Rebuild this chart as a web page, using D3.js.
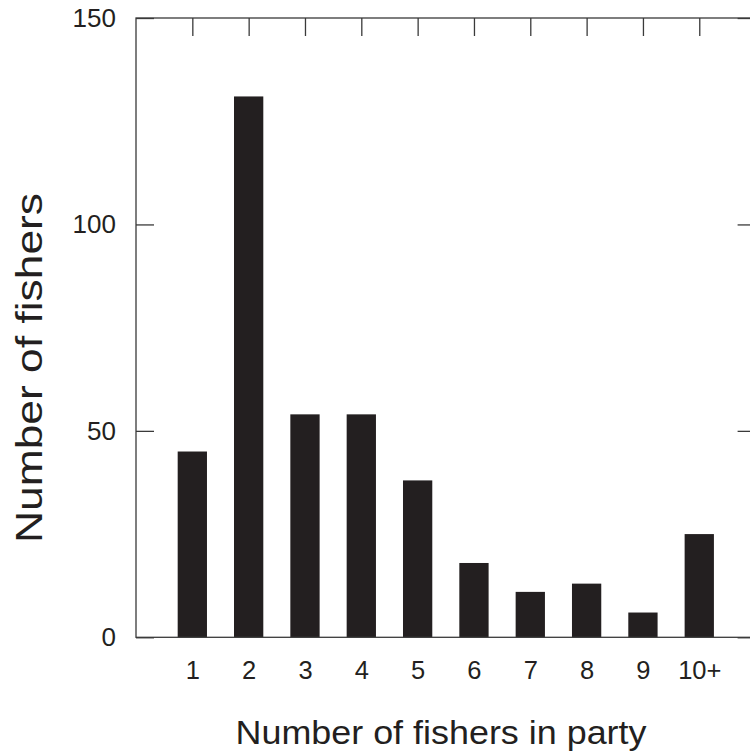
<!DOCTYPE html>
<html>
<head>
<meta charset="utf-8">
<script src="https://cdn.jsdelivr.net/npm/d3@7"></script>
<style>
  html, body { margin: 0; padding: 0; background: #ffffff; }
  svg { display: block; }
  text { font-family: "Liberation Sans", Arial, sans-serif; fill: #231f20; }
</style>
</head>
<body>
<svg id="chart" width="750" height="755"></svg>
<script>
// Party size categories and the number of fishers in each
const partySizes = ["1", "2", "3", "4", "5", "6", "7", "8", "9", "10+"];
const fisherCounts = [45, 131, 54, 54, 38, 18, 11, 13, 6, 25];
const yTicks = [0, 50, 100, 150];

const margin = { left: 136, top: 18 };
const width = 619.6, height = 619.3;
const tickLen = 18;
const ink = "#231f20";
const lineCol = "#3a3a3a";

const svg = d3.select("#chart");
const g = svg.append("g").attr("transform", `translate(${margin.left},${margin.top})`);

const x = d3.scalePoint().domain(partySizes).range([0, width]).padding(1);
const y = d3.scaleLinear().domain([0, 150]).range([height, 0]);
const barW = x.step() * 0.52;

// bars
g.selectAll("rect.bar")
  .data(partySizes.map((c, i) => ({ c, v: fisherCounts[i] })))
  .join("rect")
  .attr("class", "bar")
  .attr("x", d => x(d.c) - barW / 2)
  .attr("width", barW)
  .attr("y", d => y(d.v))
  .attr("height", d => y(0) - y(d.v))
  .attr("fill", ink);

// left axis: labels outside, ticks pointing inward
const leftAxis = g.append("g")
  .call(d3.axisLeft(y).tickValues(yTicks).tickSize(-tickLen).tickPadding(20));
leftAxis.selectAll("text").style("font-size", "26px").attr("fill", ink);

// right axis: inward ticks only
const rightAxis = g.append("g")
  .attr("transform", `translate(${width},0)`)
  .call(d3.axisRight(y).tickValues(yTicks).tickSize(-tickLen).tickFormat(""));

// top axis: inward ticks at each category
const topAxis = g.append("g")
  .call(d3.axisTop(x).tickSize(-tickLen).tickFormat(""));

// bottom axis: labels only
const bottomAxis = g.append("g")
  .attr("transform", `translate(0,${height})`)
  .call(d3.axisBottom(x).tickSize(0).tickPadding(24));
bottomAxis.selectAll("text").style("font-size", "25.5px").attr("fill", ink);

[leftAxis, rightAxis, topAxis, bottomAxis].forEach(a => {
  a.select(".domain").remove();
  a.selectAll("line").attr("stroke", lineCol).attr("stroke-width", 1.3);
});

// frame
g.append("rect")
  .attr("x", 0).attr("y", 0)
  .attr("width", width).attr("height", height)
  .attr("fill", "none")
  .attr("stroke", lineCol)
  .attr("stroke-width", 1.3);

// axis titles (wide set)
svg.append("text")
  .attr("x", 441)
  .attr("y", 744)
  .attr("text-anchor", "middle")
  .attr("textLength", 411)
  .attr("lengthAdjust", "spacingAndGlyphs")
  .style("font-size", "32.5px")
  .text("Number of fishers in party");

svg.append("text")
  .attr("transform", "translate(41.5,368) rotate(-90)")
  .attr("text-anchor", "middle")
  .attr("textLength", 350)
  .attr("lengthAdjust", "spacingAndGlyphs")
  .style("font-size", "36px")
  .text("Number of fishers");
</script>
</body>
</html>
